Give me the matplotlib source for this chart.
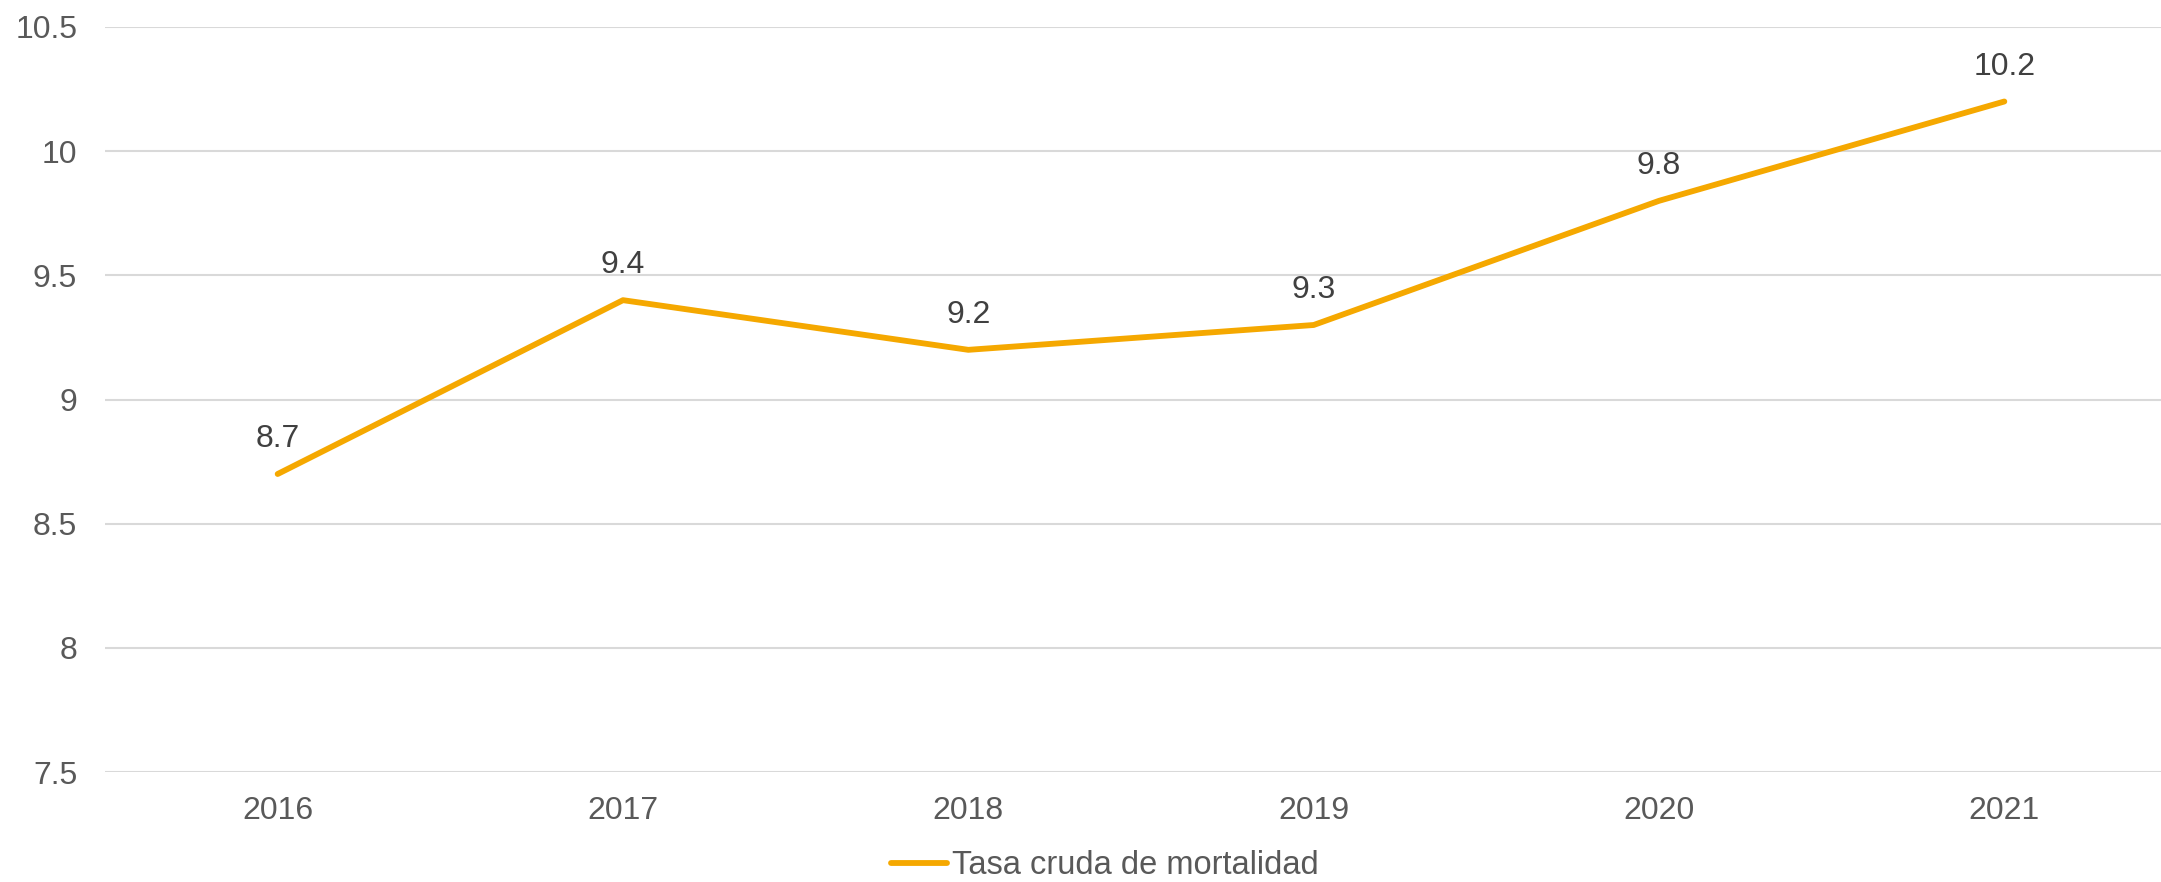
import matplotlib.pyplot as plt

plt.rcParams['font.family'] = ['Liberation Sans', 'DejaVu Sans']

years = ['2016', '2017', '2018', '2019', '2020', '2021']
tasa = [8.7, 9.4, 9.2, 9.3, 9.8, 10.2]
yticks = [7.5, 8, 8.5, 9, 9.5, 10, 10.5]
ytick_labels = ['7.5', '8', '8.5', '9', '9.5', '10', '10.5']

W, H = 2161, 882
fig = plt.figure(figsize=(W / 100, H / 100), dpi=100)
ax = fig.add_axes([105 / W, 1 - 772 / H, (2177 - 105) / W, (772 - 27) / H])

x = list(range(len(years)))
line_color = '#F5A800'
ax.plot(x, tasa, color=line_color, lw=4.2, solid_capstyle='round',
        label='Tasa cruda de mortalidad', zorder=3)

for xi, v in zip(x, tasa):
    ax.annotate(f'{v:g}', (xi, v), xytext=(0, 25), textcoords='offset points',
                ha='center', va='center', fontsize=23, color='#404040')

ax.set_xlim(-0.5, len(years) - 0.5)
ax.set_ylim(7.5, 10.5)
ax.set_xticks(x)
ax.set_xticklabels(years)
ax.set_yticks(yticks)
ax.set_yticklabels(ytick_labels)
ax.tick_params(axis='both', length=0, labelsize=23, labelcolor='#595959')
ax.tick_params(axis='y', pad=20)
ax.tick_params(axis='x', pad=17)
ax.grid(axis='y', color='#D9D9D9', lw=1.5)
ax.set_axisbelow(True)
for s in ax.spines.values():
    s.set_visible(False)

fig.legend(loc='center', bbox_to_anchor=(1105 / W, 1 - 866 / H), frameon=False,
           fontsize=23.5, labelcolor='#595959', handlelength=1.7, handletextpad=0.15)

fig.savefig('out.png', dpi=100)
